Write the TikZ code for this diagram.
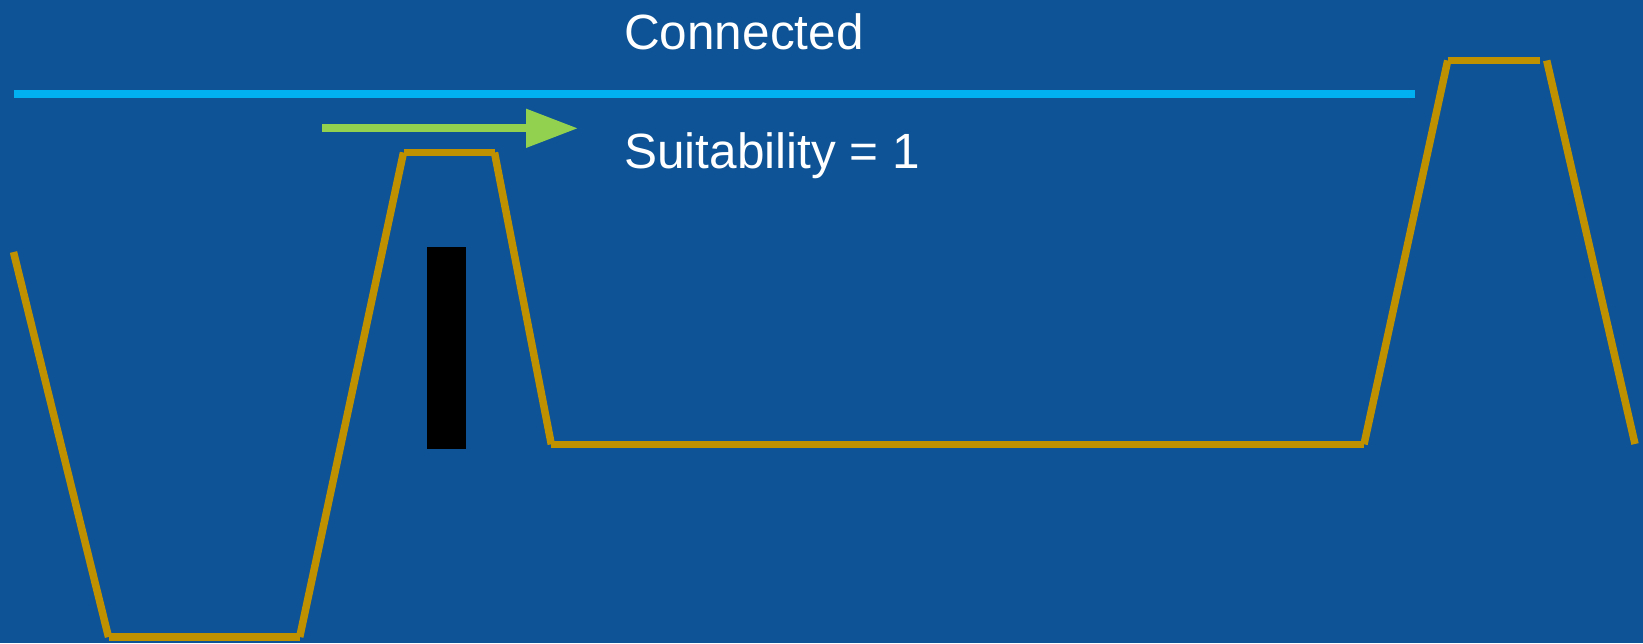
\documentclass[tikz,border=0pt]{standalone}
\usepackage{fontspec}
\setmainfont{Liberation Sans}
\usetikzlibrary{arrows.meta}
\definecolor{bgblue}{HTML}{0D5395}
\definecolor{lineblue}{HTML}{00B0F0}
\definecolor{arrowgreen}{HTML}{92D050}
\definecolor{gold}{HTML}{BF9000}
\tikzset{
  label text/.style={anchor=base west, inner sep=0pt, text=white, font=\fontsize{49.5}{59}\selectfont},
  goldseg/.style={draw=gold, line width=7.5pt},
}
\begin{document}
\begin{tikzpicture}[x=1pt,y=-1pt]
\fill[bgblue] (0,0) rectangle (1643,643);
\useasboundingbox (0,0) rectangle (1643,643);
% texts
\node[label text] (conn) at (624,49.3) {Connected};
\node[label text] (suit) at (624,168.3) {Suitability = 1};
% connected line
\coordinate (cl) at (13.5,94);
\coordinate (cr) at (1415,94);
\draw[lineblue, line width=7.7pt] (cl) -- (cr);
% green arrow
\coordinate (ga) at (322,128.3);
\coordinate (gb) at (578,128.3);
\draw[arrowgreen, line width=8pt, -{Triangle[length=52pt,width=37pt]}] (ga) -- (gb);
% black bar
\fill[black] (426.7,247.3) rectangle (465.5,449.4);
% gold profile
\coordinate (p1) at (13.5,252);
\coordinate (p2) at (108.5,637);
\coordinate (p3) at (299.7,637);
\coordinate (p4) at (403.5,152.5);
\coordinate (p5) at (494.5,152.5);
\coordinate (p6) at (551.3,444.3);
\coordinate (p7) at (1364,444.3);
\coordinate (p8) at (1447.7,60.5);
\coordinate (p9) at (1540,60.5);
\coordinate (p10) at (1546.7,60.5);
\coordinate (p11) at (1635,444);
\draw[goldseg] (p1) -- (p2);
\draw[goldseg] (p2) -- (p3);
\draw[goldseg] (p3) -- (p4);
\draw[goldseg] (p4) -- (p5);
\draw[goldseg] (p5) -- (p6);
\draw[goldseg] (p6) -- (p7);
\draw[goldseg] (p7) -- (p8);
\draw[goldseg] (p8) -- (p9);
\draw[goldseg] (p10) -- (p11);
\end{tikzpicture}
\end{document}
